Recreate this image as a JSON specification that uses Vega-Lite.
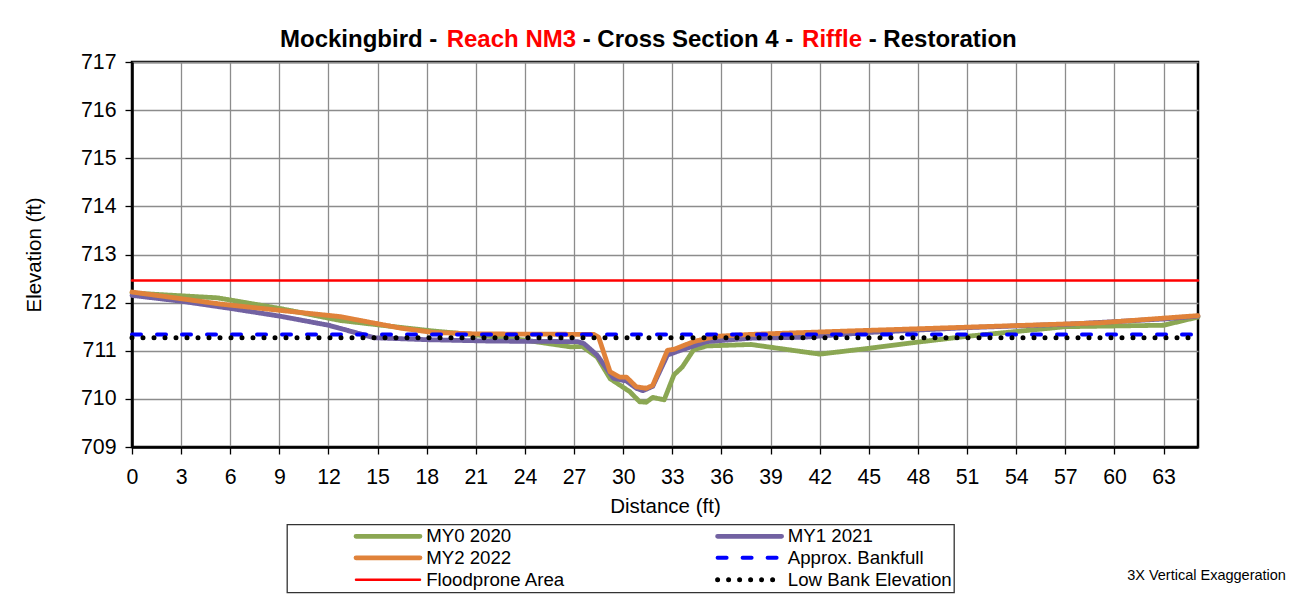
{
  "$schema": "https://vega.github.io/schema/vega-lite/v6.json",
  "width": 1066,
  "height": 385,
  "autosize": {"type": "none"},
  "padding": {"left": 132, "top": 62, "right": 96, "bottom": 147},
  "background": "white",
  "config": {
    "font": "Liberation Sans",
    "view": {"stroke": "black", "strokeWidth": 2.5},
    "axis": {
      "grid": true,
      "gridColor": "#8c8c8c",
      "gridWidth": 1.3,
      "domainColor": "black",
      "domainWidth": 2.5,
      "tickColor": "black",
      "tickWidth": 1.3,
      "tickSize": 7,
      "labelFont": "Liberation Sans",
      "labelFontSize": 21.3,
      "labelColor": "black",
      "labelFlush": false,
      "labelOverlap": false,
      "titleFont": "Liberation Sans",
      "titleFontSize": 20.5,
      "titleFontWeight": "normal",
      "titleColor": "black"
    },
    "legend": {
      "strokeWidth": 1.3
    }
  },
  "data": {
    "values": [
      {"series": "MY0 2020", "x": 0, "y": 712.20},
      {"series": "MY0 2020", "x": 5.2, "y": 712.10},
      {"series": "MY0 2020", "x": 9, "y": 711.88},
      {"series": "MY0 2020", "x": 12.7, "y": 711.63},
      {"series": "MY0 2020", "x": 16, "y": 711.50},
      {"series": "MY0 2020", "x": 18.4, "y": 711.41},
      {"series": "MY0 2020", "x": 21, "y": 711.33},
      {"series": "MY0 2020", "x": 24, "y": 711.22},
      {"series": "MY0 2020", "x": 26.8, "y": 711.08},
      {"series": "MY0 2020", "x": 27.5, "y": 711.09},
      {"series": "MY0 2020", "x": 28.4, "y": 710.87},
      {"series": "MY0 2020", "x": 29.2, "y": 710.42},
      {"series": "MY0 2020", "x": 30.4, "y": 710.15},
      {"series": "MY0 2020", "x": 31.0, "y": 709.94},
      {"series": "MY0 2020", "x": 31.4, "y": 709.93},
      {"series": "MY0 2020", "x": 31.8, "y": 710.03},
      {"series": "MY0 2020", "x": 32.5, "y": 709.98},
      {"series": "MY0 2020", "x": 33.1, "y": 710.50},
      {"series": "MY0 2020", "x": 33.6, "y": 710.66},
      {"series": "MY0 2020", "x": 34.3, "y": 711.02},
      {"series": "MY0 2020", "x": 35.1, "y": 711.10},
      {"series": "MY0 2020", "x": 37.8, "y": 711.13},
      {"series": "MY0 2020", "x": 42.0, "y": 710.93},
      {"series": "MY0 2020", "x": 45, "y": 711.05},
      {"series": "MY0 2020", "x": 48, "y": 711.18},
      {"series": "MY0 2020", "x": 51, "y": 711.30},
      {"series": "MY0 2020", "x": 57, "y": 711.50},
      {"series": "MY0 2020", "x": 63, "y": 711.53},
      {"series": "MY0 2020", "x": 65.1, "y": 711.70},
      {"series": "MY1 2021", "x": 0, "y": 712.15},
      {"series": "MY1 2021", "x": 3, "y": 712.03},
      {"series": "MY1 2021", "x": 6, "y": 711.88},
      {"series": "MY1 2021", "x": 9, "y": 711.72},
      {"series": "MY1 2021", "x": 12, "y": 711.53},
      {"series": "MY1 2021", "x": 14.8, "y": 711.27},
      {"series": "MY1 2021", "x": 18, "y": 711.23},
      {"series": "MY1 2021", "x": 22, "y": 711.20},
      {"series": "MY1 2021", "x": 27.2, "y": 711.19},
      {"series": "MY1 2021", "x": 27.6, "y": 711.15},
      {"series": "MY1 2021", "x": 28.4, "y": 710.91},
      {"series": "MY1 2021", "x": 29.4, "y": 710.43},
      {"series": "MY1 2021", "x": 30.2, "y": 710.37},
      {"series": "MY1 2021", "x": 30.8, "y": 710.22},
      {"series": "MY1 2021", "x": 31.2, "y": 710.17},
      {"series": "MY1 2021", "x": 31.8, "y": 710.26},
      {"series": "MY1 2021", "x": 32.7, "y": 710.91},
      {"series": "MY1 2021", "x": 33.5, "y": 711.01},
      {"series": "MY1 2021", "x": 35.1, "y": 711.19},
      {"series": "MY1 2021", "x": 37.8, "y": 711.26},
      {"series": "MY1 2021", "x": 41, "y": 711.28},
      {"series": "MY1 2021", "x": 45, "y": 711.38},
      {"series": "MY1 2021", "x": 51, "y": 711.48},
      {"series": "MY1 2021", "x": 57, "y": 711.55},
      {"series": "MY1 2021", "x": 63, "y": 711.66},
      {"series": "MY1 2021", "x": 65.1, "y": 711.72},
      {"series": "MY2 2022", "x": 0, "y": 712.22},
      {"series": "MY2 2022", "x": 5.4, "y": 711.97},
      {"series": "MY2 2022", "x": 9, "y": 711.84},
      {"series": "MY2 2022", "x": 12.7, "y": 711.71},
      {"series": "MY2 2022", "x": 16.4, "y": 711.47},
      {"series": "MY2 2022", "x": 18.4, "y": 711.38},
      {"series": "MY2 2022", "x": 21, "y": 711.35},
      {"series": "MY2 2022", "x": 28.2, "y": 711.34},
      {"series": "MY2 2022", "x": 28.5, "y": 711.28},
      {"series": "MY2 2022", "x": 29.2, "y": 710.56},
      {"series": "MY2 2022", "x": 29.8, "y": 710.45},
      {"series": "MY2 2022", "x": 30.2, "y": 710.45},
      {"series": "MY2 2022", "x": 30.8, "y": 710.25},
      {"series": "MY2 2022", "x": 31.4, "y": 710.22},
      {"series": "MY2 2022", "x": 31.8, "y": 710.28},
      {"series": "MY2 2022", "x": 32.7, "y": 711.01},
      {"series": "MY2 2022", "x": 33.1, "y": 711.03},
      {"series": "MY2 2022", "x": 34.3, "y": 711.19},
      {"series": "MY2 2022", "x": 35.7, "y": 711.30},
      {"series": "MY2 2022", "x": 37.8, "y": 711.34},
      {"series": "MY2 2022", "x": 42.8, "y": 711.40},
      {"series": "MY2 2022", "x": 51, "y": 711.49},
      {"series": "MY2 2022", "x": 59.1, "y": 711.58},
      {"series": "MY2 2022", "x": 65.1, "y": 711.73},
      {"series": "Floodprone Area", "x": 0, "y": 712.46},
      {"series": "Floodprone Area", "x": 65.1, "y": 712.46},
      {"series": "Approx. Bankfull", "x": 0, "y": 711.34},
      {"series": "Approx. Bankfull", "x": 65.1, "y": 711.34},
      {"series": "Low Bank Elevation", "x": 0, "y": 711.27},
      {"series": "Low Bank Elevation", "x": 65.1, "y": 711.27}
    ]
  },
  "layer": [
    {
      "mark": {"type": "line", "strokeCap": "round", "strokeJoin": "round"},
      "encoding": {
        "x": {
          "field": "x", "type": "quantitative",
          "scale": {"domain": [0, 65.1], "nice": false, "zero": false},
          "axis": {"title": "Distance (ft)", "values": [0,3,6,9,12,15,18,21,24,27,30,33,36,39,42,45,48,51,54,57,60,63], "labelPadding": 12, "titlePadding": 9}
        },
        "y": {
          "field": "y", "type": "quantitative",
          "scale": {"domain": [709, 717], "nice": false, "zero": false},
          "axis": {"title": "Elevation (ft)", "values": [709,710,711,712,713,714,715,716,717], "labelPadding": 9, "titlePadding": 36}
        },
        "color": {
          "field": "series", "type": "nominal",
          "scale": {
            "domain": ["MY0 2020","MY1 2021","MY2 2022","Approx. Bankfull","Floodprone Area","Low Bank Elevation"],
            "range": ["#8BA753","#7262A2","#E0823A","#0000FF","#FF0000","#000000"]
          },
          "legend": {
            "title": null,
            "orient": "none",
            "direction": "horizontal",
            "legendX": 155,
            "legendY": 462.5,
            "columns": 2,
            "symbolType": "stroke",
            "symbolSize": 4096,
            "symbolOffset": 64.5,
            "labelOffset": 3.7,
            "clipHeight": 18.7,
            "labelFont": "Liberation Sans",
            "labelFontSize": 18.67,
            "labelColor": "black",
            "labelLimit": 500,
            "padding": 2,
            "rowPadding": 2,
            "columnPadding": 84.6,
            "strokeColor": "#333333",
            "fillColor": "white",
            "encode": {"symbols": {"update": {"strokeCap": {"value": "round"}}}}
          }
        },
        "strokeDash": {
          "field": "series", "type": "nominal",
          "scale": {
            "domain": ["MY0 2020","MY1 2021","MY2 2022","Approx. Bankfull","Floodprone Area","Low Bank Elevation"],
            "range": [[1,0],[1,0],[1,0],[9,16],[1,0],[0,11]]
          }
        },
        "strokeWidth": {
          "field": "series", "type": "nominal",
          "scale": {
            "type": "ordinal",
            "domain": ["MY0 2020","MY1 2021","MY2 2022","Approx. Bankfull","Floodprone Area","Low Bank Elevation"],
            "range": [4.8,4.8,4.8,4,2.5,5]
          }
        }
      }
    },
    {
      "data": {"values": [{}]},
      "mark": {"type": "text", "align": "left", "baseline": "middle", "font": "Liberation Sans", "fontSize": 24, "fontWeight": "bold", "color": "black"},
      "encoding": {
        "x": {"datum": 9.038, "type": "quantitative"},
        "y": {"datum": 717.457, "type": "quantitative"},
        "text": {"value": "Mockingbird -"}
      }
    },
    {
      "data": {"values": [{}]},
      "mark": {"type": "text", "align": "left", "baseline": "middle", "font": "Liberation Sans", "fontSize": 24, "fontWeight": "bold", "color": "#FF0000"},
      "encoding": {
        "x": {"datum": 19.218, "type": "quantitative"},
        "y": {"datum": 717.457, "type": "quantitative"},
        "text": {"value": "Reach NM3"}
      }
    },
    {
      "data": {"values": [{}]},
      "mark": {"type": "text", "align": "left", "baseline": "middle", "font": "Liberation Sans", "fontSize": 24, "fontWeight": "bold", "color": "black"},
      "encoding": {
        "x": {"datum": 27.52, "type": "quantitative"},
        "y": {"datum": 717.457, "type": "quantitative"},
        "text": {"value": "- Cross Section 4 -"}
      }
    },
    {
      "data": {"values": [{}]},
      "mark": {"type": "text", "align": "left", "baseline": "middle", "font": "Liberation Sans", "fontSize": 24, "fontWeight": "bold", "color": "#FF0000"},
      "encoding": {
        "x": {"datum": 40.92, "type": "quantitative"},
        "y": {"datum": 717.457, "type": "quantitative"},
        "text": {"value": "Riffle"}
      }
    },
    {
      "data": {"values": [{}]},
      "mark": {"type": "text", "align": "left", "baseline": "middle", "font": "Liberation Sans", "fontSize": 24, "fontWeight": "bold", "color": "black"},
      "encoding": {
        "x": {"datum": 44.99, "type": "quantitative"},
        "y": {"datum": 717.457, "type": "quantitative"},
        "text": {"value": "- Restoration"}
      }
    },
    {
      "data": {"values": [{}]},
      "mark": {"type": "text", "align": "right", "baseline": "alphabetic", "font": "Liberation Sans", "fontSize": 14.5, "color": "black"},
      "encoding": {
        "x": {"datum": 70.47, "type": "quantitative"},
        "y": {"datum": 706.236, "type": "quantitative"},
        "text": {"value": "3X Vertical Exaggeration"}
      }
    }
  ]
}
